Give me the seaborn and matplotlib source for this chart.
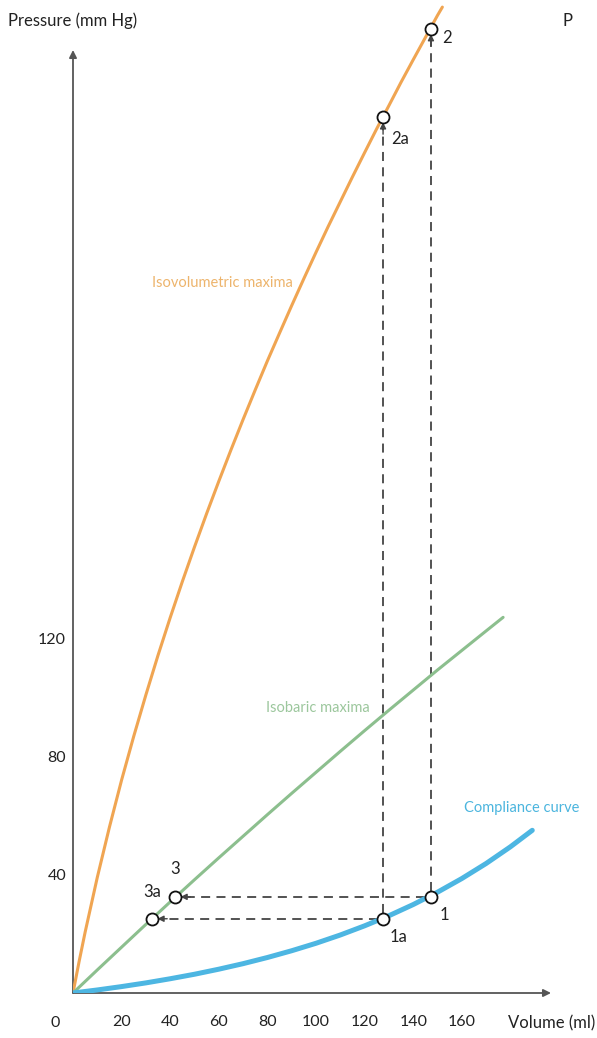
import matplotlib
matplotlib.use("Agg")
import matplotlib.pyplot as plt
import seaborn as sns
import pandas as pd

# ---------------- data ----------------
iso_vol_volume = [0, 2.5, 5, 10, 15, 20, 25, 30, 35, 40, 45, 50, 55, 60, 65, 70, 75, 80,
                  85, 90, 95, 100, 105, 110, 115, 120, 125, 130, 135, 140, 145, 150, 152]
iso_vol_pressure = [0, 10.6, 20.6, 39.1, 56.1, 72.0, 86.8, 100.8, 114.2, 126.9, 139.1,
                    150.8, 162.1, 173.0, 183.6, 193.9, 203.9, 213.7, 223.1, 232.4, 241.5,
                    250.4, 259.1, 267.5, 275.9, 284.1, 292.2, 300.0, 307.9, 315.5, 323.0,
                    330.5, 333.3]

isobaric_volume = [0, 10, 20, 30, 40, 50, 60, 70, 80, 90, 100, 110, 120, 130, 140, 150,
                   160, 170, 177]
isobaric_pressure = [0, 7.8, 15.5, 23.2, 30.8, 38.3, 45.7, 53.0, 60.3, 67.5, 74.6, 81.7,
                     88.7, 95.6, 102.4, 109.2, 115.8, 122.4, 127.0]

compliance_volume = [0, 10, 20, 30, 40, 50, 60, 70, 80, 90, 100, 110, 120, 130, 140, 150,
                     160, 170, 180, 189]
compliance_pressure = [0, 1.03, 2.17, 3.42, 4.82, 6.34, 8.05, 9.92, 12.0, 14.29, 16.81,
                       19.61, 22.71, 26.12, 29.90, 34.08, 38.69, 43.78, 49.42, 55.0]

point_labels = ["1", "1a", "2", "2a", "3", "3a"]
point_volume = [147.3, 127.6, 147.3, 127.6, 42.0, 32.5]
point_pressure = [32.5, 25.1, 326.0, 296.2, 32.5, 25.1]

x_ticks = [20, 40, 60, 80, 100, 120, 140, 160]
x_tick_labels = ["20", "40", "60", "80", "100", "120", "140", "160"]
y_ticks = [40, 80, 120, 240]
y_tick_labels = ["40", "80", "120", ""]

curve_names = ["Isovolumetric maxima", "Isobaric maxima", "Compliance curve"]

# ---------------- style ----------------
sns.set_theme(style="white")
plt.rcParams["font.family"] = ["Lato", "DejaVu Sans"]

ORANGE = "#F0A552"
GREEN = "#8CBF8E"
BLUE = "#4DB6E2"
AXIS = "#555555"
DASH = "#444444"
TXT = "#222222"

W, H = 597, 1038
fig = plt.figure(figsize=(W / 100, H / 100), dpi=100)
px_x, px_y = 2.43, 2.958
left, right, bottom, top = 73, 590, 993, 3
ax = fig.add_axes([left / W, (H - bottom) / H, (right - left) / W, (bottom - top) / H])
ax.set_xlim(0, (right - left) / px_x)
ax.set_ylim(0, (bottom - top) / px_y)
for s in ax.spines.values():
    s.set_visible(False)

df_o = pd.DataFrame({"v": iso_vol_volume, "p": iso_vol_pressure})
df_g = pd.DataFrame({"v": isobaric_volume, "p": isobaric_pressure})
df_b = pd.DataFrame({"v": compliance_volume, "p": compliance_pressure})
sns.lineplot(data=df_o, x="v", y="p", ax=ax, color=ORANGE, lw=2.2, sort=False,
             estimator=None, zorder=3)
sns.lineplot(data=df_g, x="v", y="p", ax=ax, color=GREEN, lw=2.2, sort=False,
             estimator=None, zorder=3)
sns.lineplot(data=df_b, x="v", y="p", ax=ax, color=BLUE, lw=3.6, sort=False,
             estimator=None, zorder=3)

# axes arrows
ax.annotate("", xy=(0, (bottom - 50) / px_y), xytext=(0, 0),
            arrowprops=dict(arrowstyle="-|>", color=AXIS, lw=1.3,
                            mutation_scale=11, shrinkA=0, shrinkB=0),
            annotation_clip=False, zorder=2)
ax.annotate("", xy=((551 - left) / px_x, 0), xytext=(0, 0),
            arrowprops=dict(arrowstyle="-|>", color=AXIS, lw=1.3,
                            mutation_scale=11, shrinkA=0, shrinkB=0),
            annotation_clip=False, zorder=2)

ax.set_xticks(x_ticks)
ax.set_xticklabels(x_tick_labels)
ax.set_yticks(y_ticks)
ax.set_yticklabels(y_tick_labels)
ax.tick_params(axis="x", direction="in", length=7.2, width=1.2, color=AXIS,
               pad=16, labelsize=11.5, labelcolor=TXT)
ax.tick_params(axis="y", direction="in", length=4.5, width=1.2, color=AXIS,
               pad=5, labelsize=11.5, labelcolor=TXT)
ax.grid(False)

# origin label
ax.text(-7.4, -30 / px_y, "0", ha="center", va="center", fontsize=11.5, color=TXT,
        clip_on=False)
# axis titles
fig.text(8 / W, 1 - 21 / H, "Pressure (mm Hg)", ha="left", va="center",
         fontsize=12, color=TXT)
fig.text(563 / W, 1 - 21 / H, "P", ha="left", va="center",
         fontsize=12, color=TXT)
fig.text(595 / W, 1 - 1023 / H, "Volume (ml)", ha="right", va="center",
         fontsize=12, color=TXT)

# dashed connectors
rx, ry = 5.5 / px_x, 5.5 / px_y
p = dict(zip(point_labels, zip(point_volume, point_pressure)))
dash_kw = dict(color=DASH, lw=1.3, ls=(0, (5, 3.5)), zorder=2)
head_kw = dict(arrowstyle="-|>", color=DASH, lw=1.0, mutation_scale=9,
               shrinkA=0, shrinkB=0)
for a, b in [("1", "2"), ("1a", "2a")]:
    x0, y0 = p[a]
    x1, y1 = p[b]
    ax.plot([x0, x1], [y0 + ry, y1 - ry - 2], **dash_kw)
    ax.annotate("", xy=(x1, y1 - ry), xytext=(x1, y1 - ry - 4),
                arrowprops=head_kw, zorder=4)
for a, b in [("1", "3"), ("1a", "3a")]:
    x0, y0 = p[a]
    x1, y1 = p[b]
    ax.plot([x0 - rx, x1 + rx + 2], [y0, y1], **dash_kw)
    ax.annotate("", xy=(x1 + rx, y1), xytext=(x1 + rx + 4, y1),
                arrowprops=head_kw, zorder=4)

# points
df_pts = pd.DataFrame({"v": point_volume, "p": point_pressure, "lab": point_labels})
sns.scatterplot(data=df_pts, x="v", y="p", ax=ax, s=75, color="white",
                edgecolor="#111111", linewidth=1.3, zorder=5, legend=False)
ax.set_xlabel("")
ax.set_ylabel("")

label_offsets = {"1": (9.5, -13), "1a": (11, -13), "2": (11.5, -7),
                 "2a": (12, -16), "3": (0, 20), "3a": (0, 19.5)}
for lab, v, pr in zip(point_labels, point_volume, point_pressure):
    ax.annotate(lab, xy=(v, pr), xytext=label_offsets[lab],
                textcoords="offset points", ha="center", va="center",
                fontsize=12, color=TXT, zorder=6)

# curve names
ax.text((222 - left) / px_x, (bottom - 283) / px_y, curve_names[0], color="#EDB46C",
        fontsize=10.5, ha="center", va="center")
ax.text((318 - left) / px_x, (bottom - 708) / px_y, curve_names[1], color="#9CC79D",
        fontsize=10.5, ha="center", va="center")
ax.text((522 - left) / px_x, (bottom - 808) / px_y, curve_names[2], color="#4BB5DE",
        fontsize=10.5, ha="center", va="center")

fig.savefig("out.png", dpi=100)
